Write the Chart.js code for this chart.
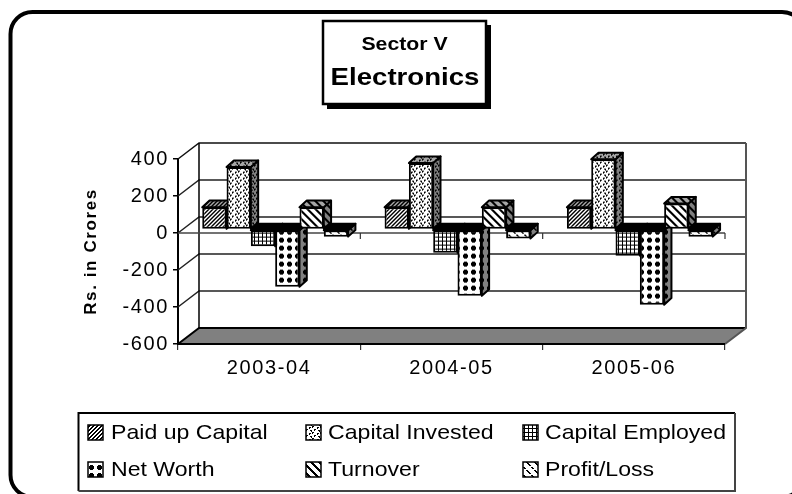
<!DOCTYPE html>
<html><head><meta charset="utf-8">
<style>html,body{margin:0;padding:0;background:#fff}canvas{display:block}</style>
<script src="https://cdn.jsdelivr.net/npm/chart.js@4"></script>
</head><body><canvas id="c" width="792" height="494"></canvas>
<script>
const categories = ['2003-04','2004-05','2005-06'];
const yTickStep = 200, yMin = -600, yMax = 400;
const seriesNames = ['Paid up Capital','Capital Invested','Capital Employed','Net Worth','Turnover','Profit/Loss'];
const paidUpCapital   = [121, 121, 121];
const capitalInvested = [338, 360, 380];
const capitalEmployed = [-90, -125, -141];
const netWorth        = [-309, -358, -406];
const turnover        = [121, 121, 141];
const profitLoss      = [-38, -48, -38];
const titleLines = ['Sector V','Electronics'];
const yTitle = 'Rs. in Crores';
const seriesValues = [paidUpCapital,capitalInvested,capitalEmployed,netWorth,turnover,profitLoss];

const bitmaps = [
 ['0011','0110','1100','1001'],
 ['11000000','10000110','00000100','00110000','00100011','00000001'],
 ['1111','1000','1000','1000'],
 ['00000000','00111000','01111100','01111100','01111100','00111000','00000000','00000000'],
 ['11100000','01110000','00111000','00011100','00001110','00000111','10000011','11000001'],
 ['11000000','01100000','00000000','00011000','00001100','00000000','00000011','10000001']
];
function makePattern(bits,bg){
  const n=bits.length,m=document.createElement('canvas');m.width=bits[0].length;m.height=n;
  const g=m.getContext('2d');g.fillStyle=bg;g.fillRect(0,0,m.width,n);g.fillStyle='#000';
  bits.forEach((r,y)=>[...r].forEach((b,x)=>{if(b==='1')g.fillRect(x,y,1,1);}));
  return g.createPattern(m,'repeat');
}
const frontP = bitmaps.map(b=>makePattern(b,'#ffffff'));
const topP   = bitmaps.map(b=>makePattern(b,'#a6a6a6'));
const sideP  = bitmaps.map(b=>makePattern(b,'#808080'));

// 3D look
const wallDX=21, wallDY=16, barDX=6, barDY=3.4, depthX=7.3, depthY=6.6;

function poly(ctx,pts,fill,stroke,lw){
  ctx.beginPath();pts.forEach((p,i)=>i?ctx.lineTo(p[0],p[1]):ctx.moveTo(p[0],p[1]));ctx.closePath();
  if(fill){ctx.fillStyle=fill;ctx.fill();}
  if(stroke){ctx.strokeStyle=stroke;ctx.lineWidth=lw||1;ctx.lineJoin='round';ctx.stroke();}
}
function line(ctx,pts,color,lw){
  ctx.beginPath();pts.forEach((p,i)=>i?ctx.lineTo(p[0],p[1]):ctx.moveTo(p[0],p[1]));
  ctx.strokeStyle=color;ctx.lineWidth=lw;ctx.stroke();
}
function stretched(ctx,text,x,y,font,sx,align){
  ctx.save();ctx.letterSpacing='0px';ctx.font=font;ctx.fillStyle='#000';ctx.textBaseline='alphabetic';ctx.textAlign=align||'left';
  ctx.translate(x,y);ctx.scale(sx,1);ctx.fillText(text,0,0);ctx.restore();
}

const pseudo3d={
  id:'pseudo3d',
  beforeDraw(chart){
    const ctx=chart.ctx;
    ctx.save();ctx.fillStyle='#fff';ctx.fillRect(0,0,792,494);ctx.restore();
    // outer rounded frame
    ctx.save();ctx.beginPath();ctx.roundRect(10.5,12,793.5,485,22);ctx.strokeStyle='#000';ctx.lineWidth=4;ctx.stroke();ctx.restore();
    ctx.letterSpacing='1.6px';
  },
  beforeDatasetsDraw(chart){
    const ctx=chart.ctx,y=chart.scales.y,a=chart.chartArea;
    ctx.save();ctx.letterSpacing='0px';
    const L=a.left,R=a.right,B=a.bottom;
    // floor
    poly(ctx,[[L,B],[R,B],[R+wallDX,B-wallDY],[L+wallDX,B-wallDY]],'#808080',null);
    // back wall gridlines and left side diagonals
    y.ticks.forEach(t=>{
      const p=y.getPixelForValue(t.value);
      if(t.value!==yMin) line(ctx,[[L,p],[L+wallDX,p-wallDY],[R+wallDX,p-wallDY]],t.value===yMax?'#111':'#222',1.5);
    });
    line(ctx,[[L,B],[L+wallDX,B-wallDY],[R+wallDX,B-wallDY]],'#000',2);
    line(ctx,[[L+wallDX,a.top-wallDY],[L+wallDX,B-wallDY]],'#000',1.5);
    line(ctx,[[R+wallDX,a.top-wallDY],[R+wallDX,B-wallDY],[R,B]],'#555',2);
    // zero line + category marks
    const z=y.getPixelForValue(0);
    line(ctx,[[L,z],[R,z]],'#444',1.5);
    chart.scales.x.getTicks().forEach((t,i)=>{
      const px=L+(R-L)*(i+1)/categories.length;
      line(ctx,[[px,z],[px,z+6]],'#333',1.2);
    });
    line(ctx,[[L,B],[R,B]],'#000',2);

    // bars with depth faces, drawn in series order through the library
    ctx.translate(barDX,-barDY);
    for(let i=0;i<seriesValues.length;i++){
      const meta=chart.getDatasetMeta(i);
      meta.data.forEach((el,k)=>{
        const x0=el.x-el.width/2,x1=el.x+el.width/2,val=seriesValues[i][k];
        const hi=Math.min(el.y,el.base),lo=Math.max(el.y,el.base);
        poly(ctx,[[x1,hi],[x1+depthX,hi-depthY],[x1+depthX,lo-depthY],[x1,lo]],sideP[i],'#000',2);
        poly(ctx,[[x0,hi],[x1,hi],[x1+depthX,hi-depthY],[x0+depthX,hi-depthY]],val<0?'#000':topP[i],'#000',2);
      });
      meta.controller.draw();
    }
    ctx.restore();
    return false;
  },
  afterDraw(chart){
    const ctx=chart.ctx;
    ctx.save();ctx.letterSpacing='0px';
    // title box
    ctx.fillStyle='#000';ctx.fillRect(327,25,164,84);
    ctx.fillStyle='#fff';ctx.strokeStyle='#000';ctx.lineWidth=2.5;ctx.fillRect(323,21,163,83);ctx.strokeRect(323,21,163,83);
    stretched(ctx,titleLines[0],404.5,50,'bold 18px "Liberation Sans"',1.18,'center');
    stretched(ctx,titleLines[1],405,85,'bold 24px "Liberation Sans"',1.15,'center');
    // legend
    ctx.fillStyle='#fff';ctx.fillRect(79,413,655,78);
    line(ctx,[[78.5,491],[78.5,413],[735,413]],'#000',2);
    line(ctx,[[735,413],[735,491],[78.5,491]],'#444',2);
    const colsS=[88,306,523],colsT=[111,328,545],rows=[[425,439],[462,476]];
    seriesNames.forEach((n,i)=>{
      const c=i%3,r=rows[Math.floor(i/3)];
      ctx.fillStyle=frontP[i];ctx.fillRect(colsS[c],r[0],15,15);
      ctx.strokeStyle='#000';ctx.lineWidth=1.5;ctx.strokeRect(colsS[c],r[0],15,15);
      stretched(ctx,n,colsT[c],r[1],'21px "Liberation Sans"',1.1);
    });
    ctx.restore();
  }
};

new Chart(document.getElementById('c'),{
  type:'bar',
  data:{labels:categories,datasets:seriesNames.map((n,i)=>({
    label:n,data:seriesValues[i],backgroundColor:frontP[i],borderColor:'#000',borderWidth:2,borderSkipped:false,
    barPercentage:1,categoryPercentage:0.8
  }))},
  options:{
    responsive:false,animation:false,devicePixelRatio:1,
    layout:{padding:{left:0,right:67,top:159,bottom:0}},
    plugins:{legend:{display:false},title:{display:false},tooltip:{enabled:false}},
    scales:{
      x:{grid:{drawOnChartArea:false,tickLength:6,tickColor:'#333',lineWidth:1.2},
         border:{color:'#000',width:2},
         ticks:{color:'#000',font:{family:'"Liberation Sans"',size:20},padding:6,maxRotation:0,autoSkip:false},
         afterFit(s){s.height=150;}},
      y:{min:yMin,max:yMax,
         grid:{drawOnChartArea:false,tickLength:5,tickColor:'#000',lineWidth:1.5},
         border:{color:'#000',width:2},
         ticks:{stepSize:yTickStep,color:'#000',font:{family:'"Liberation Sans"',size:20},padding:4},
         title:{display:true,text:yTitle,color:'#000',font:{family:'"Liberation Sans"',size:17,weight:'bold'},padding:{top:81,bottom:0}},
         afterFit(s){s.width=178;}}
    }
  },
  plugins:[pseudo3d]
});
</script></body></html>
